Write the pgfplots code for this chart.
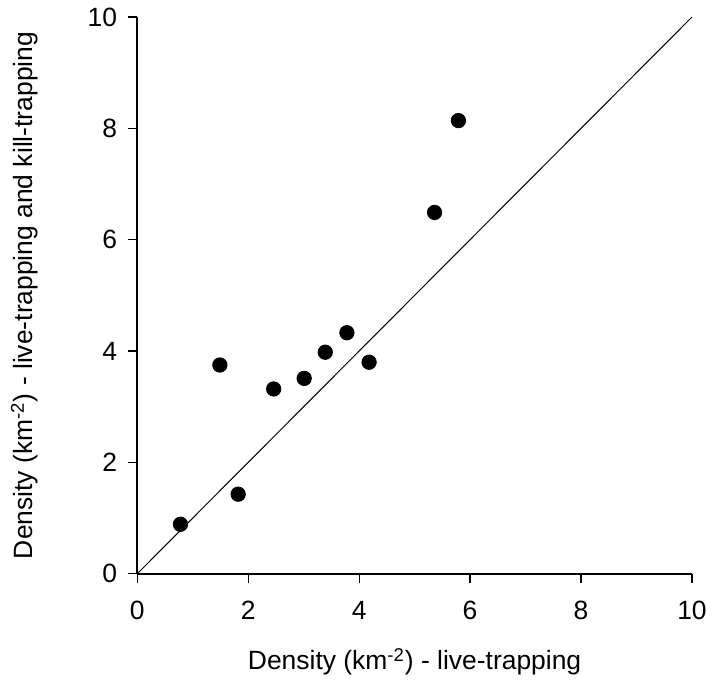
\documentclass[border=0pt]{standalone}
\usepackage{pgfplots}
\pgfplotsset{compat=1.18}
\usetikzlibrary{calc}
\usepackage{fontspec}
\setmainfont{Liberation Sans}

\begin{document}
\begin{tikzpicture}
\begin{axis}[
    name=ax,
    scale only axis,
    width=277pt, height=278pt,
    xmin=0, xmax=10, ymin=0, ymax=10,
    xtick={0,2,...,10}, ytick={0,2,...,10},
    axis lines*=left,
    axis line style={line width=1pt},
    tick align=outside,
    major tick length=4.5pt,
    tick style={line width=0.6pt, black},
    font=\fontsize{13.2}{15}\selectfont,
    /pgf/number format/assume math mode=true,
    xticklabel style={yshift=-5.5pt},
    yticklabel style={xshift=-2pt},
    xlabel={Density (km\textsuperscript{-2}) - live-trapping},
    ylabel={Density (km\textsuperscript{-2}) - live-trapping and kill-trapping},
    xlabel style={at={(axis description cs:0.5,-0.158)}, anchor=center},
    ylabel style={at={(axis description cs:-0.203,0.5)}, anchor=center},
    clip=false,
]
% 1:1 line
\addplot[black, line width=0.5pt, no marks] coordinates {(0,0) (10,10)};
% observed densities
\addplot[only marks, mark=*, mark size=3.6pt, black] coordinates {
    (0.78,0.89)
    (1.49,3.75)
    (1.82,1.43)
    (2.46,3.32)
    (3.01,3.51)
    (3.39,3.98)
    (3.78,4.33)
    (4.18,3.80)
    (5.36,6.49)
    (5.79,8.14)
};
\end{axis}
\pgfresetboundingbox
\path ($(ax.south west)+(-68.5pt,-55pt)$) rectangle ($(ax.north east)+(7pt,8.5pt)$);
\end{tikzpicture}
\end{document}
